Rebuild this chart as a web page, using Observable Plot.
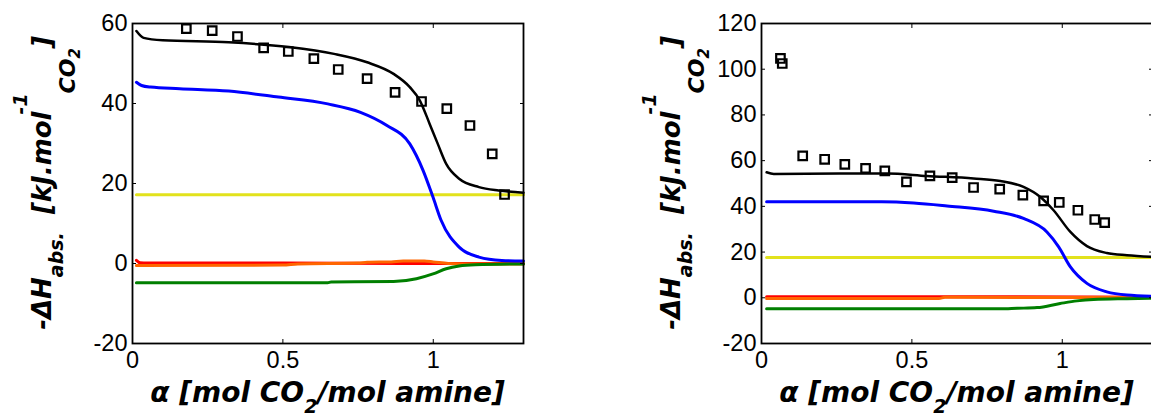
<!DOCTYPE html>
<html>
<head>
<meta charset="utf-8">
<script src="https://cdn.jsdelivr.net/npm/d3@7"></script>
<script src="https://cdn.jsdelivr.net/npm/@observablehq/plot@0.6"></script>
<style>
  body { margin: 0; background: #fff; overflow: hidden; }
  #wrap { position: relative; width: 1151px; height: 419px; overflow: hidden; background: #fff; }
  .panel { position: absolute; top: 0; }
</style>
</head>
<body>
<div id="wrap"></div>
<script>
// ---- axes ----
const xDomain = [0, 1.3];
const xTicks = [0, 0.5, 1];
const yDomainA = [-20, 60];
const yTicksA = [-20, 0, 20, 40, 60];
const yDomainB = [-20, 120];
const yTicksB = [-20, 0, 20, 40, 60, 80, 100, 120];

// ---- panel A: [alpha, -dH] ----
const totalA = [[0.013,58.1],[0.037,56.4],[0.10,55.8],[0.32,55.3],[0.52,54.1],[0.67,52.4],[0.78,50.3],[0.868,47.4],[0.922,44.1],[0.955,40.8],[0.988,34.9],[1.015,29.9],[1.043,24.9],[1.086,21.2],[1.152,19.1],[1.217,18.25],[1.30,17.7]];
const carbamateA = [[0.013,45.3],[0.03,44.5],[0.06,44.1],[0.157,43.7],[0.32,43.1],[0.485,41.6],[0.649,39.9],[0.758,37.8],[0.846,34.5],[0.922,29.9],[0.966,23.3],[0.999,16.6],[1.026,10.8],[1.086,4.1],[1.152,1.6],[1.228,0.75],[1.30,0.6]];
const physicalA = [[0.013,17.2],[1.30,17.2]];
const redA = [[0.013,0.8],[0.025,0.2],[0.05,0.1],[0.5,0.1],[0.9,0.0],[1.3,0.0]];
const orangeA = [[0.013,-0.5],[0.5,-0.4],[0.55,-0.1],[0.75,0.1],[0.78,0.3],[0.86,0.4],[0.9,0.6],[0.97,0.6],[1.0,0.4],[1.05,0.0],[1.1,-0.1],[1.3,-0.1]];
const greenA = [[0.013,-4.8],[0.649,-4.8],[0.66,-4.6],[0.868,-4.5],[0.944,-3.8],[0.999,-2.6],[1.043,-1.3],[1.086,-0.6],[1.14,-0.3],[1.3,-0.1]];
const measuredA = [[0.179,58.7],[0.265,58.2],[0.349,56.75],[0.436,53.9],[0.518,53.0],[0.603,51.2],[0.684,48.5],[0.780,46.2],[0.873,42.8],[0.961,40.5],[1.045,38.7],[1.122,34.5],[1.196,27.4],[1.237,17.25]];

// ---- panel B ----
const totalB = [[0.017,54.9],[0.041,54.2],[0.418,54.4],[0.55,53.3],[0.705,52.2],[0.794,51.1],[0.871,48.5],[0.927,44.1],[0.971,38.3],[1.027,28.8],[1.082,22.6],[1.148,19.6],[1.215,18.6],[1.30,17.9]];
const carbamateB = [[0.017,42.0],[0.40,42.0],[0.506,41.5],[0.617,40.2],[0.772,37.9],[0.871,34.7],[0.949,28.8],[0.988,22.3],[1.027,13.5],[1.082,6.3],[1.148,2.6],[1.215,1.2],[1.30,0.7]];
const physicalB = [[0.017,17.6],[1.30,17.6]];
const redB = [[0.017,0.5],[0.6,0.5],[1.3,0.2]];
const orangeB = [[0.017,-0.3],[0.59,-0.3],[0.61,0.2],[1.3,0.1]];
const greenB = [[0.017,-4.85],[0.794,-4.85],[0.85,-4.6],[0.916,-4.3],[0.993,-2.5],[1.049,-1.35],[1.104,-0.75],[1.215,-0.4],[1.30,-0.2]];
const measuredB = [[0.063,104.7],[0.069,102.5],[0.137,62.1],[0.21,60.6],[0.277,58.4],[0.346,56.6],[0.41,55.5],[0.482,50.7],[0.56,53.3],[0.634,52.6],[0.705,48.25],[0.792,47.5],[0.869,44.9],[0.938,42.4],[0.99,41.7],[1.052,38.3],[1.108,34.25],[1.141,32.9]];

const colors = { total: "#000000", carbamate: "#0000ff", physical: "#e2e21c", red: "#ff0000", orange: "#ff6600", green: "#007f00" };
const fmt = d => String(d);
const titleFont = "'DejaVu Sans', sans-serif";

function drawPanel({left, width, marginLeft, yDomain, yTicks, series, measured}) {
  const plotW = 391;
  const marginRight = width - marginLeft - plotW;
  const fx = d => d[0], fy = d => d[1];
  const plot = Plot.plot({
    width, height: 419,
    marginLeft, marginRight, marginTop: 23, marginBottom: 76,
    x: {domain: xDomain, axis: null},
    y: {domain: yDomain, axis: null},
    style: {fontFamily: "'Liberation Sans', Arial, sans-serif", fontSize: "23.5px", color: "#000", background: "transparent", overflow: "visible"},
    marks: [
      ...series.map(s => Plot.line(s.data, {x: fx, y: fy, stroke: s.color, strokeWidth: s.w, curve: "monotone-x"})),
      Plot.dot(measured, {x: fx, y: fy, symbol: "square", r: 4.8, stroke: "#000", strokeWidth: 2.2, fill: "none"}),
      Plot.frame({stroke: "#000", strokeWidth: 1.8}),
      // inward tick marks on all four sides
      Plot.axisX({ticks: xTicks, anchor: "bottom", tickSize: 4, dy: -4, tickFormat: () => "", label: null}),
      Plot.axisX({ticks: xTicks, anchor: "top", tickSize: 4, dy: 4, tickFormat: () => "", label: null}),
      Plot.axisY({ticks: yTicks, anchor: "left", tickSize: 4, dx: 4, tickFormat: () => "", label: null}),
      Plot.axisY({ticks: yTicks, anchor: "right", tickSize: 4, dx: -4, tickFormat: () => "", label: null}),
      // tick labels
      Plot.axisX({ticks: xTicks, anchor: "bottom", tickSize: 0, tickPadding: 8, tickFormat: fmt, label: null}),
      Plot.axisY({ticks: yTicks, anchor: "left", tickSize: 0, tickPadding: 5, tickFormat: fmt, label: null})
    ]
  });
  plot.classList.add("panel");
  plot.style.left = left + "px";
  document.getElementById("wrap").appendChild(plot);

  const svg = d3.select(plot);
  // x title: alpha [mol CO2/mol amine]
  const xt = svg.append("text")
    .attr("x", marginLeft + plotW / 2).attr("y", 402)
    .attr("text-anchor", "middle")
    .style("font-family", titleFont).style("font-weight", "bold").style("font-style", "oblique")
    .style("font-size", "28px").attr("fill", "#000");
  xt.append("tspan").text("α [mol CO");
  xt.append("tspan").attr("dy", 11).style("font-size", "19px").text("2");
  xt.append("tspan").attr("dy", -11).text("/mol amine]");

  // y title: -ΔH_abs. [kJ.mol^-1_CO2]
  const yt = svg.append("text")
    .attr("transform", `translate(${marginLeft - 81},183) rotate(-90)`)
    .attr("text-anchor", "middle")
    .style("font-family", titleFont).style("font-weight", "bold").style("font-style", "oblique")
    .style("font-size", "26px").attr("fill", "#000");
  yt.append("tspan").text("-ΔH");
  yt.append("tspan").attr("dy", 12).style("font-size", "19px").text("abs.");
  yt.append("tspan").attr("dy", -12).text("\u00a0\u00a0[kJ.mol");
  yt.append("tspan").attr("dy", -24).attr("dx", -3).style("font-size", "19px").text("-1");
  yt.append("tspan").attr("dy", 48).style("font-size", "22px").text("CO");
  yt.append("tspan").attr("dy", 5).style("font-size", "15px").text("2");
  yt.append("tspan").attr("dy", -29).text("]");
}

const seriesOf = (total, carb, phys, red, orange, green) => [
  {data: phys, color: colors.physical, w: 3},
  {data: red, color: colors.red, w: 3},
  {data: orange, color: colors.orange, w: 3},
  {data: green, color: colors.green, w: 3},
  {data: carb, color: colors.carbamate, w: 3},
  {data: total, color: colors.total, w: 2.5}
];

drawPanel({left: 0, width: 560, marginLeft: 132, yDomain: yDomainA, yTicks: yTicksA,
  series: seriesOf(totalA, carbamateA, physicalA, redA, orangeA, greenA), measured: measuredA});
drawPanel({left: 580, width: 580, marginLeft: 181, yDomain: yDomainB, yTicks: yTicksB,
  series: seriesOf(totalB, carbamateB, physicalB, redB, orangeB, greenB), measured: measuredB});
</script>
</body>
</html>
